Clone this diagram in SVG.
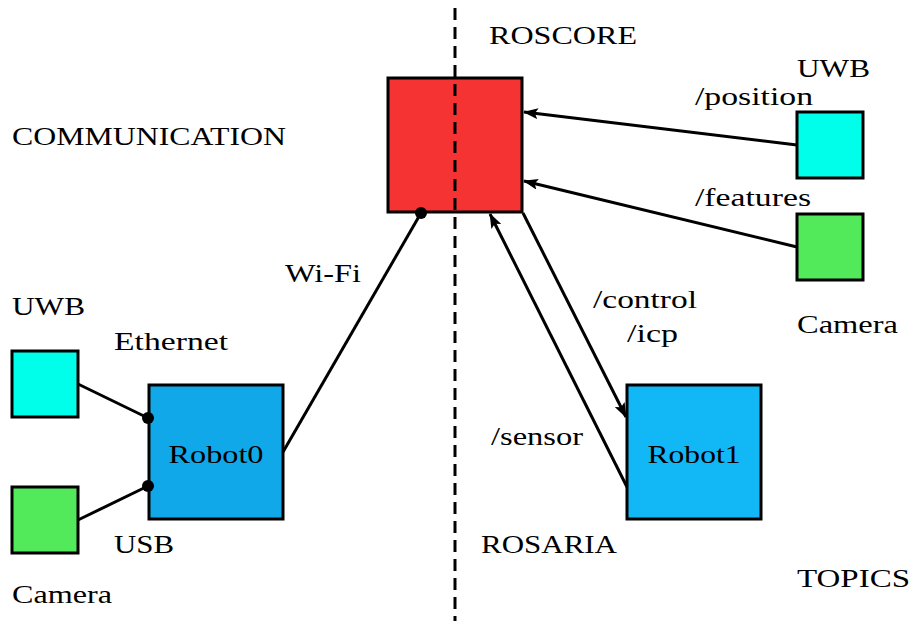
<svg xmlns="http://www.w3.org/2000/svg" width="913" height="621" viewBox="0 0 913 621" font-family="Liberation Serif, DejaVu Serif, serif" font-size="25">
  <style>
    .mid { text-anchor: middle; }
    .box { stroke: #000; stroke-width: 3; }
    .wire { stroke: #000; stroke-width: 3; fill: none; }
    .uwb { fill: #00ffea; }
    .cam { fill: #52ea5a; }
  </style>
  <defs>
    <marker id="head" viewBox="0 0 15 11" refX="14" refY="5.5" markerWidth="15" markerHeight="11" markerUnits="userSpaceOnUse" orient="auto">
      <path d="M0,0 L15,5.5 L0,11 L3,5.5 Z" fill="#000"/>
    </marker>
  </defs>

  <rect width="913" height="621" fill="#fff"/>

  <!-- region labels -->
  <text x="489" y="44" textLength="148" lengthAdjust="spacingAndGlyphs">ROSCORE</text>
  <text x="12" y="145" textLength="274" lengthAdjust="spacingAndGlyphs">COMMUNICATION</text>
  <text x="481" y="553" textLength="136" lengthAdjust="spacingAndGlyphs">ROSARIA</text>
  <text x="797" y="587" textLength="113" lengthAdjust="spacingAndGlyphs">TOPICS</text>

  <!-- nodes -->
  <g id="roscore">
    <rect class="box" x="388" y="78" width="134" height="134" fill="#f53333"/>
  </g>
  <g id="uwb-right">
    <rect class="box uwb" x="797" y="112" width="66" height="66"/>
    <text x="797" y="77" textLength="73" lengthAdjust="spacingAndGlyphs">UWB</text>
  </g>
  <g id="camera-right">
    <rect class="box cam" x="797" y="214" width="66" height="66"/>
    <text x="797" y="333" textLength="101" lengthAdjust="spacingAndGlyphs">Camera</text>
  </g>
  <g id="robot0">
    <rect class="box" x="149" y="385" width="134" height="134" fill="#10a8e8"/>
    <text class="mid" x="216" y="463" textLength="95" lengthAdjust="spacingAndGlyphs">Robot0</text>
  </g>
  <g id="robot1">
    <rect class="box" x="627" y="385" width="134" height="134" fill="#12b8f5"/>
    <text class="mid" x="694" y="463" textLength="93" lengthAdjust="spacingAndGlyphs">Robot1</text>
  </g>
  <g id="uwb-left">
    <rect class="box uwb" x="12" y="351" width="66" height="66"/>
    <text x="12" y="315" textLength="73" lengthAdjust="spacingAndGlyphs">UWB</text>
  </g>
  <g id="camera-left">
    <rect class="box cam" x="12" y="487" width="66" height="66"/>
    <text x="12" y="603" textLength="100" lengthAdjust="spacingAndGlyphs">Camera</text>
  </g>

  <!-- divider between machines -->
  <line x1="455" y1="8" x2="455" y2="621" stroke="#000" stroke-width="3" stroke-dasharray="12 7"/>

  <!-- connectors -->
  <g id="connectors">
    <line class="wire" x1="797" y1="145" x2="524" y2="112" marker-end="url(#head)"/>
    <line class="wire" x1="797" y1="247" x2="524" y2="181" marker-end="url(#head)"/>
    <line class="wire" x1="523" y1="213" x2="626" y2="417" marker-end="url(#head)"/>
    <line class="wire" x1="627" y1="487" x2="490" y2="214" marker-end="url(#head)"/>
    <line class="wire" x1="283" y1="452" x2="421" y2="213"/>
    <circle cx="421" cy="213" r="6" fill="#000"/>
    <line class="wire" x1="78" y1="384" x2="148" y2="418"/>
    <circle cx="148" cy="418" r="6" fill="#000"/>
    <line class="wire" x1="78" y1="520" x2="148" y2="486"/>
    <circle cx="148" cy="486" r="6" fill="#000"/>

    <text x="695" y="105" textLength="118" lengthAdjust="spacingAndGlyphs">/position</text>
    <text x="695" y="206" textLength="116" lengthAdjust="spacingAndGlyphs">/features</text>
    <text x="593" y="308" textLength="104" lengthAdjust="spacingAndGlyphs">/control</text>
    <text x="627" y="342" textLength="51" lengthAdjust="spacingAndGlyphs">/icp</text>
    <text x="491" y="445" textLength="92" lengthAdjust="spacingAndGlyphs">/sensor</text>
    <text x="285" y="282" textLength="76" lengthAdjust="spacingAndGlyphs">Wi-Fi</text>
    <text x="114" y="350" textLength="114" lengthAdjust="spacingAndGlyphs">Ethernet</text>
    <text x="114" y="553" textLength="60" lengthAdjust="spacingAndGlyphs">USB</text>
  </g>
</svg>
